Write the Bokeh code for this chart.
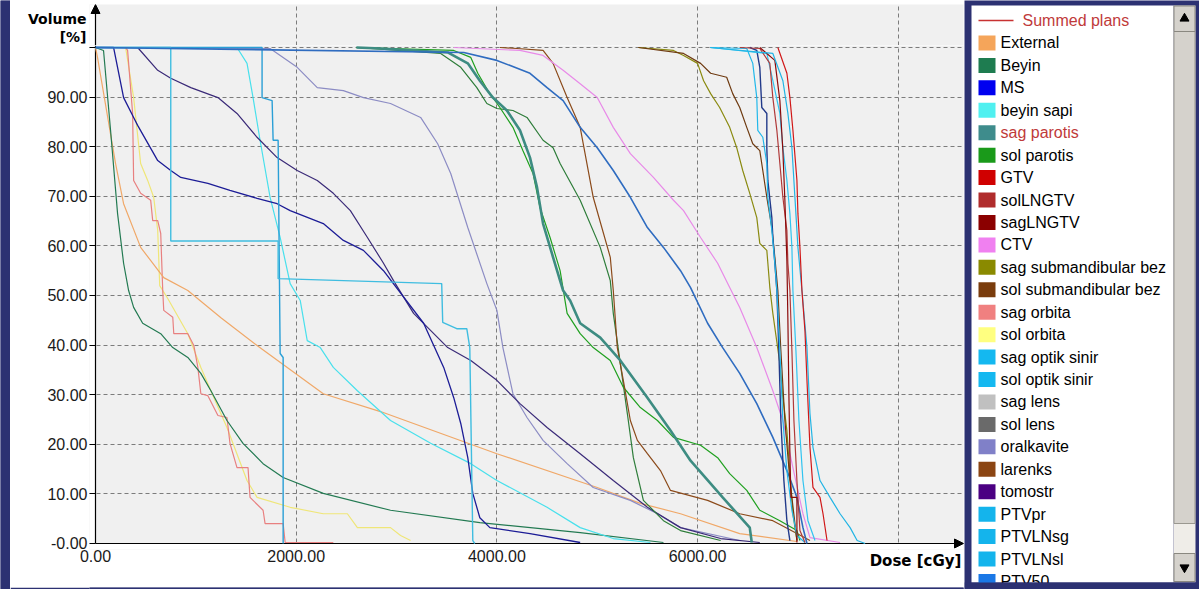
from bokeh.plotting import figure
from bokeh.models import (Range1d, FixedTicker, CustomJSTickFormatter, PrintfTickFormatter,
                          Arrow, NormalHead)
from bokeh.layouts import row, column
from bokeh.embed import file_html
from bokeh.resources import INLINE
from bokeh.core.properties import value

NAVY = "#2c3172"

# ---------------- data ----------------
x_ticks = [0, 2000, 4000, 6000]
x_grid = [2000, 4000, 6000, 8000]
y_ticks = [0, 10, 20, 30, 40, 50, 60, 70, 80, 90, 100]
y_grid = [10, 20, 30, 40, 50, 60, 70, 80, 90, 100]
x_label = "Dose [cGy]"
y_label_lines = ["Volume", "[%]"]

legend_names = ["Summed plans", "External", "Beyin", "MS", "beyin sapi", "sag parotis",
                "sol parotis", "GTV", "solLNGTV", "sagLNGTV", "CTV", "sag submandibular bez",
                "sol submandibular bez", "sag orbita", "sol orbita", "sag optik sinir",
                "sol optik sinir", "sag lens", "sol lens", "oralkavite", "larenks", "tomostr",
                "PTVpr", "PTVLNsg", "PTVLNsl", "PTV50"]
legend_colors = ["#c83232", "#f5a55a", "#1e7c50", "#0000f0", "#50f0f0", "#3e8c8c",
                 "#1a9a1a", "#d00000", "#b02c2c", "#8b0000", "#f080f0", "#8a8a00",
                 "#7a3c0c", "#f08080", "#ffff80", "#14b8f0", "#14b8f0", "#c0c0c0",
                 "#6a6a6a", "#8080c8", "#8b4513", "#4b0082", "#14b4ec", "#14b4ec",
                 "#14b4ec", "#1a78e6"]
legend_text_colors = ["#c03a3a", "black", "black", "black", "black", "#c03a3a"] + ["black"] * 20

sol_orbita_dose = [0, 300, 380, 450, 520, 580, 620, 640, 720, 920, 1050, 1180, 1310, 1510, 1610, 1940, 2270, 2510, 2610, 2940, 3040, 3140]
sol_orbita_vol = [100, 100, 89.9, 76.6, 73.2, 69.8, 63.1, 52, 49.4, 42.3, 35.5, 29.4, 23.4, 12.7, 9.3, 7.3, 6, 6, 3.2, 3.2, 1.6, 0.6]

sag_orbita_dose = [0, 300, 320, 370, 380, 450, 550, 570, 620, 650, 670, 680, 770, 780, 920, 980, 1020, 1050, 1120, 1220, 1310, 1340, 1410, 1520, 1540, 1670, 1690, 1870, 1890, 2370]
sag_orbita_vol = [100, 100, 99.4, 86.7, 73.2, 70.6, 69.2, 65.1, 65.1, 62.5, 51, 47, 45.6, 42.3, 42.3, 39.9, 35.5, 30.2, 29.8, 25.8, 25.4, 20.2, 15.3, 15.3, 9.3, 6.7, 4, 4, 0.2, 0.2]

external_dose = [0, 20, 200, 280, 450, 680, 920, 1250, 1610, 2270, 2840, 4000, 5000, 5430, 5830, 6420, 6990]
external_vol = [100, 98, 76.6, 68.5, 59.7, 53.6, 51, 45.5, 39.9, 30.2, 26.6, 18.1, 11.3, 8.1, 6, 2, 0.4]

beyin_dose = [0, 80, 150, 220, 280, 330, 380, 470, 650, 770, 920, 1050, 1150, 1310, 1470, 1670, 1870, 2270, 2940, 3830, 4830, 5660]
beyin_vol = [100, 99.4, 83.3, 66.5, 56.5, 51, 47.6, 44.4, 42.3, 39.5, 37.5, 34.3, 30.8, 24.8, 20.2, 16.1, 13.3, 10.1, 6.7, 4.2, 2.2, 0.2]

beyin_sapi_dose = [0, 1410, 1510, 1570, 1640, 1740, 1840, 1940, 2040, 2110, 2240, 2370, 2610, 2940, 3340, 3740, 4000, 4500, 4830, 5160, 5530]
beyin_sapi_vol = [100, 100, 96.8, 89.9, 81.3, 69.8, 61.7, 52.4, 49, 40.9, 39.5, 35.5, 30.8, 24.8, 20.2, 16.1, 12.7, 7.3, 3.2, 1, 0.2]

oralkavite_dose = [0, 1740, 2010, 2210, 2470, 2670, 2940, 3240, 3410, 3540, 3710, 3900, 4000, 4060, 4160, 4300, 4460, 4700, 4960, 5330, 5600, 5830, 6420]
oralkavite_vol = [100, 99.8, 96, 91.9, 91.3, 89.9, 88.7, 85.9, 80.6, 74.6, 63.7, 52.4, 47, 39.5, 30.2, 25.4, 20.8, 16.1, 11.3, 8.7, 6, 3.2, 0.6]

tomostr_dose = [0, 420, 620, 750, 950, 1220, 1410, 1610, 1810, 2010, 2210, 2370, 2540, 2710, 2870, 2970, 3170, 3510, 3740, 4000, 4230, 4500, 4830, 5160, 5500, 5830, 6230, 6620]
tomostr_vol = [100, 100, 95.4, 93.8, 91.9, 89.9, 86.7, 81.9, 77.8, 75.2, 73.2, 70.6, 67.1, 61.7, 56.5, 53, 46.4, 39.5, 36.9, 32.9, 28.2, 23.4, 18.1, 12.7, 7.3, 3.2, 1, 0.2]

ms_dose = [0, 180, 280, 380, 420, 620, 750, 850, 1120, 1340, 1610, 1810, 1940, 2270, 2470, 2670, 2870, 3270, 3470, 3570, 3640, 3710, 3760, 3830, 3930, 4330, 4830]
ms_vol = [100, 100, 89.9, 85.9, 84.3, 77.2, 75.2, 73.8, 72.6, 71.2, 69.6, 68.5, 67.1, 64.5, 61.1, 59.1, 55, 44.4, 35.5, 29.4, 24.2, 17.3, 10.1, 5.2, 3.2, 2, 0.2]

sol_optik_dose = [0, 1660, 1660, 1760, 1770, 1820, 1840, 1870, 1870]
sol_optik_vol = [100, 100, 89.9, 89.3, 81.3, 81.3, 38.3, 37.5, 0]

sag_optik_dose = [0, 750, 750, 1820, 1820, 3450, 3460, 3600, 3700, 3730, 3760, 3780]
sag_optik_vol = [100, 100, 61, 61, 53.4, 52.4, 44.6, 43.3, 43.3, 39.5, 0.6, 0]

other_green_dose = [2600, 3440, 3640, 3800, 3900, 4000, 4160, 4300, 4460, 4560, 4630, 4830, 5030, 5130, 5160, 5230, 5300, 5360, 5460, 5660, 5830, 6230]
other_green_vol = [100, 98.8, 96, 91.9, 88.7, 87.7, 87.3, 85.9, 81.3, 79.8, 76.6, 69.2, 59.7, 53, 46.4, 36.3, 26.2, 17.3, 8.7, 4.6, 2.6, 0.6]

sol_parotis_dose = [2600, 3570, 3740, 3810, 3910, 4030, 4160, 4260, 4360, 4430, 4530, 4630, 4700, 4830, 4960, 5130, 5260, 5430, 5600, 5760, 6030, 6200, 6320, 6490, 6620, 6820, 6990, 7020]
sol_parotis_vol = [100, 99.4, 98, 94.8, 91.3, 87.9, 83.9, 79.2, 74.6, 67.7, 61.7, 55, 46.4, 42.3, 39.5, 36.9, 31.5, 27.4, 24.8, 21.4, 19.8, 17.3, 14.1, 10.7, 6.7, 4.6, 2.6, 0.6]

larenks_dose = [4030, 4200, 4460, 4560, 4700, 4830, 4960, 5130, 5160, 5200, 5260, 5330, 5400, 5500, 5630, 5730, 6100, 6420, 6750, 6990, 7120]
larenks_vol = [100, 99.8, 99.4, 96.8, 89.9, 83.9, 69.8, 57.7, 51, 39.5, 32.9, 24.8, 20.8, 18.1, 14.7, 10.7, 8.7, 6, 4.6, 2, 0.6]

sag_parotis_dose = [2600, 2840, 3510, 3710, 3830, 3960, 4100, 4230, 4330, 4400, 4460, 4560, 4660, 4730, 4830, 5030, 5230, 5500, 5730, 5930, 6250, 6520, 6540]
sag_parotis_vol = [100, 99.8, 99, 96.8, 93.3, 89.9, 87.3, 83.3, 77.8, 71.8, 64.5, 57.7, 51, 49, 44.4, 41.5, 36.9, 29.4, 22.8, 16.7, 9.3, 3.2, 0.2]

ctv_dose = [3570, 4230, 4460, 4660, 4830, 5000, 5160, 5330, 5560, 5760, 5860, 6030, 6200, 6320, 6420, 6590, 6750, 6850, 6950, 7050, 7120, 7420]
ctv_vol = [100, 99.4, 98.4, 95.4, 92.7, 89.9, 83.9, 78.6, 73.8, 69.2, 67.1, 61.7, 56.5, 51.6, 47.6, 39.5, 30.8, 24.8, 15.3, 6, 1.2, 0.2]

ptv50_dose = [0, 3670, 4000, 4330, 4500, 4660, 4830, 5000, 5160, 5330, 5500, 5660, 5830, 5930, 6100, 6250, 6420, 6590, 6750, 6890, 6990, 7050, 7090]
ptv50_vol = [100, 99, 97.4, 94.8, 91.9, 89.3, 83.9, 79.8, 75.2, 69.8, 63.7, 59.7, 55, 51.6, 44.4, 39.5, 34.3, 28.2, 21.4, 14.7, 9.3, 3.2, 0]

sag_submand_dose = [5410, 5760, 5860, 6000, 6060, 6130, 6220, 6320, 6390, 6450, 6520, 6590, 6620, 6690, 6720, 6750, 6820, 6850, 6890, 6920, 6950, 6990]
sag_submand_vol = [100, 99.4, 98.4, 96.8, 93.3, 90.7, 87.9, 83.9, 79.8, 75.2, 70.6, 65.7, 60.5, 59.1, 51.6, 46.4, 36.3, 29.4, 22.8, 14.1, 6, 0.6]

sol_submand_dose = [5410, 5860, 6030, 6130, 6290, 6350, 6420, 6490, 6550, 6620, 6650, 6690, 6740, 6770, 6800, 6830, 6870, 6920, 6990]
sol_submand_vol = [100, 98.8, 96.8, 94.8, 94, 90.7, 87.9, 83.9, 80.6, 79.2, 75.2, 69.8, 63.7, 57.7, 51, 38.9, 24.8, 12.7, 0.6]

other_navy_dose = [6520, 6590, 6620, 6640, 6690, 6690, 6700, 6740, 6750, 6770, 6790, 6810, 6830, 6860, 6890, 6920]
other_navy_vol = [100, 99.4, 96, 87.9, 86.7, 79.8, 73.2, 65.7, 61.7, 56.5, 51, 38.9, 24.8, 12.7, 4.6, 0.6]

ptvpr_dose = [6125, 6490, 6550, 6590, 6600, 6650, 6690, 6700, 6740, 6770, 6790, 6820, 6850, 6890, 6940, 6990, 7070]
ptvpr_vol = [100, 99.8, 96.8, 89.9, 83.3, 81.9, 76.6, 69.8, 63.1, 56.5, 51, 38.9, 24.8, 14.7, 6.7, 1.6, 0.2]

ptvlnsg_dose = [6125, 6690, 6750, 6820, 6850, 6890, 6920, 6940, 6950, 6980, 7010, 7050, 7100, 7170]
ptvlnsg_vol = [100, 98.8, 93.3, 86.7, 79.8, 73.2, 66.5, 59.7, 51, 38.9, 24.8, 12.7, 4.6, 0.6]

sollngtv_dose = [6420, 6620, 6720, 6750, 6790, 6820, 6850, 6890, 6900, 6920, 6940, 6960, 6990, 7020, 7070]
sollngtv_vol = [100, 99.8, 96.8, 89.9, 83.3, 76.6, 69.8, 63.1, 56.5, 51, 38.9, 24.8, 12.7, 2.6, 0.2]

saglngtv_dose = [6620, 6770, 6820, 6850, 6870, 6890, 6900, 6910, 6920, 6930, 6990, 6990]
saglngtv_vol = [100, 97.4, 89.3, 79.2, 69.2, 57, 45, 30, 18, 9.3, 9.3, 0.2]

ptvlnsl_dose = [6125, 6750, 6850, 6900, 6940, 6970, 7000, 7040, 7090, 7120, 7150, 7220, 7320, 7420, 7520, 7590, 7670]
ptvlnsl_vol = [100, 98.8, 93.3, 86.7, 79.8, 69.8, 59.7, 51, 39.5, 26.2, 19.4, 12.7, 9.3, 6, 3.2, 0.6, 0]

gtv_dose = [6800, 6890, 6920, 6950, 6990, 7000, 7020, 7040, 7070, 7090, 7120, 7150, 7220, 7250, 7290]
gtv_vol = [100, 94.8, 89.9, 83.3, 73.2, 66.5, 59.7, 51, 42.9, 32.9, 19.4, 11.3, 9.3, 6, 0.6]

series = [
    (sol_orbita_dose, sol_orbita_vol, "#efe678", 1.2),
    (sag_orbita_dose, sag_orbita_vol, "#e88080", 1.2),
    (external_dose, external_vol, "#f0a868", 1.2),
    (beyin_dose, beyin_vol, "#237a52", 1.2),
    (beyin_sapi_dose, beyin_sapi_vol, "#48e0ec", 1.2),
    (oralkavite_dose, oralkavite_vol, "#8c8cc4", 1.2),
    (tomostr_dose, tomostr_vol, "#3a2a78", 1.2),
    (other_green_dose, other_green_vol, "#2e7d3a", 1.2),
    (sol_parotis_dose, sol_parotis_vol, "#1fa01f", 1.2),
    (larenks_dose, larenks_vol, "#8b4a1a", 1.2),
    (sag_parotis_dose, sag_parotis_vol, "#3d8c82", 2.6),
    (ctv_dose, ctv_vol, "#e88ae8", 1.2),
    (ms_dose, ms_vol, "#1c1c96", 1.3),
    (sol_optik_dose, sol_optik_vol, "#2a9fd6", 1.4),
    (sag_optik_dose, sag_optik_vol, "#3fbde0", 1.4),
    (ptv50_dose, ptv50_vol, "#2f6cc0", 1.6),
    (sag_submand_dose, sag_submand_vol, "#8a8a10", 1.2),
    (sol_submand_dose, sol_submand_vol, "#6e3a10", 1.2),
    (other_navy_dose, other_navy_vol, "#223a8a", 1.4),
    (ptvpr_dose, ptvpr_vol, "#22b8ea", 1.2),
    (ptvlnsg_dose, ptvlnsg_vol, "#30c4f0", 1.2),
    (sollngtv_dose, sollngtv_vol, "#b03a3a", 1.2),
    (saglngtv_dose, saglngtv_vol, "#8b0a0a", 1.2),
    (ptvlnsl_dose, ptvlnsl_vol, "#22b4e4", 1.2),
    (gtv_dose, gtv_vol, "#d01818", 1.2),
]

# ---------------- geometry ----------------
X_MAX = 8650
SX = 868 / X_MAX         # px per cGy
SY = 4.96                # px per %
PAD = 6                  # px of frame kept outside the axes, so arrow heads are not cut
X_MIN = -PAD / SX
Y_MIN = -PAD / SY
TOP_H = 41               # px of the strip above the main frame
Y_TOP = 100.4            # top of the main frame (in %)
GRID_COLOR = "#7c7c7c"


def style_grid(g):
    g.grid_line_color = GRID_COLOR
    g.grid_line_dash = "4 3"
    g.grid_line_width = 1


x_range = Range1d(X_MIN, X_MAX)

# ---------------- strip above the main frame (axis arrow + y title) ----------------
pt = figure(width=954, height=TOP_H, x_range=x_range,
            y_range=Range1d(Y_TOP, Y_TOP + TOP_H / SY),
            min_border_left=85 - PAD, min_border_right=1, min_border_top=0, min_border_bottom=0,
            background_fill_color="#f0f0f0", border_fill_color="white",
            outline_line_color=None, toolbar_location=None, output_backend="svg")
pt.xaxis.visible = False
pt.ygrid.visible = False
pt.xgrid.ticker = FixedTicker(ticks=x_grid)
style_grid(pt.xgrid)
pt.quad(left=[X_MIN], right=[0], bottom=[Y_TOP], top=[Y_TOP + TOP_H / SY],
        fill_color="white", line_color=None)
pt.yaxis.ticker = FixedTicker(ticks=[Y_TOP + 27 / SY, Y_TOP + 8.5 / SY])
pt.yaxis.formatter = CustomJSTickFormatter(args=dict(labels=y_label_lines),
                                           code="return tick > 104 ? labels[0] : labels[1];")
pt.yaxis.axis_line_color = None
pt.yaxis.major_tick_out = 0
pt.yaxis.major_tick_in = 0
pt.yaxis.minor_tick_line_color = None
pt.yaxis.major_label_standoff = 3
pt.yaxis.major_label_text_font = "DejaVu Sans"
pt.yaxis.major_label_text_font_style = "bold"
pt.yaxis.major_label_text_font_size = "14px"
pt.yaxis.major_label_text_color = "black"
pt.add_layout(Arrow(end=NormalHead(size=9, fill_color="black", line_color="black"),
                    x_start=0, y_start=Y_TOP, x_end=0, y_end=Y_TOP + TOP_H / SY,
                    line_color="black", line_width=1.2))

# ---------------- main plot ----------------
p = figure(width=954, height=537, x_range=x_range, y_range=Range1d(Y_MIN, Y_TOP),
           min_border_left=85 - PAD, min_border_right=1, min_border_top=0,
           min_border_bottom=39 - PAD,
           background_fill_color="#f0f0f0", border_fill_color="white",
           outline_line_color=None, toolbar_location=None, output_backend="svg")

# white margins inside the frame, left of and below the axes
p.quad(left=[X_MIN, X_MIN], right=[0, X_MAX], bottom=[Y_MIN, Y_MIN], top=[Y_TOP, 0],
       fill_color="white", line_color=None)
# axis lines through the origin
p.line([0, 0], [0, Y_TOP], line_color="black", line_width=1.2)
p.line([0, X_MAX], [0, 0], line_color="black", line_width=1.2)

for d, v, c, w in series:
    p.line(d, v, line_color=c, line_width=w)

p.xaxis.ticker = FixedTicker(ticks=x_ticks)
p.xaxis.formatter = PrintfTickFormatter(format="%.2f")
p.xgrid.ticker = FixedTicker(ticks=x_grid)
p.yaxis.ticker = FixedTicker(ticks=y_ticks)
p.yaxis.formatter = CustomJSTickFormatter(
    code="if (tick == 0) { return '-0.00'; } if (tick == 100) { return ''; } return tick.toFixed(2);")
p.ygrid.ticker = FixedTicker(ticks=y_grid)
style_grid(p.xgrid)
style_grid(p.ygrid)

for ax in (p.xaxis, p.yaxis):
    ax.axis_line_color = None
    ax.major_tick_line_color = "black"
    ax.major_tick_line_width = 1.2
    ax.minor_tick_line_color = None
    ax.major_label_text_font = "Liberation Sans"
    ax.major_label_text_font_size = "16px"
    ax.major_label_text_color = "#1a1a1a"

p.yaxis.major_tick_out = 0
p.yaxis.major_tick_in = PAD
p.yaxis.major_label_standoff = 2
p.xaxis.major_tick_out = 0
p.xaxis.major_tick_in = 0
p.xaxis.major_label_standoff = 0

# x axis title, right end of the axis, level with the tick labels
p.xaxis.axis_label = "\u00a0" * 149 + x_label
p.xaxis.axis_label_text_font = "DejaVu Sans"
p.xaxis.axis_label_text_font_style = "bold"
p.xaxis.axis_label_text_font_size = "15px"
p.xaxis.axis_label_text_color = "black"
p.xaxis.axis_label_standoff = -13

p.add_layout(Arrow(end=NormalHead(size=9, fill_color="black", line_color="black"),
                   x_start=8300, y_start=0, x_end=X_MAX, y_end=0,
                   line_color="black", line_width=1.2))

# ---------------- legend panel ----------------
lg = figure(width=235, height=589, x_range=Range1d(964, 1199), y_range=Range1d(589, 0),
            min_border=0, toolbar_location=None, outline_line_color=None,
            background_fill_color=NAVY, border_fill_color=NAVY, output_backend="svg")
lg.axis.visible = False
lg.grid.visible = False

lg.quad(left=[971], right=[1173], top=[5], bottom=[582], fill_color="white", line_color=None)
lg.quad(left=[1173], right=[1195], top=[5], bottom=[582], fill_color="#efede8", line_color=None)
lg.quad(left=[1173.5], right=[1194.5], top=[31], bottom=[523], fill_color="#d5d2cc",
        line_color="#9a9890", line_width=1)
lg.quad(left=[1173.5, 1173.5], right=[1194.5, 1194.5], top=[5.5, 553], bottom=[31, 581],
        fill_color="#d5d2cc", line_color="#8a8880", line_width=1)
lg.scatter([1184], [18], marker="triangle", size=9, fill_color="black", line_color="black")
lg.scatter([1184], [567], marker="inverted_triangle", size=9, fill_color="black", line_color="black")

n = len(legend_names)
ys = [20 + 22.44 * i for i in range(n)]
lg.line([978, 1013], [ys[0], ys[0]], line_color=legend_colors[0], line_width=1.3)
lg.quad(left=[978] * (n - 1), right=[995] * (n - 1),
        top=[y - 7.5 for y in ys[1:]], bottom=[y + 7.5 for y in ys[1:]],
        fill_color=legend_colors[1:], line_color=None)
lg.text(x=[1022] + [1000] * (n - 1), y=ys, text=legend_names, text_baseline="middle",
        text_align="left", text_font=value("Liberation Sans"), text_font_size="16px",
        text_color=legend_text_colors)
lg.quad(left=[964], right=[1199], top=[582], bottom=[589], fill_color=NAVY, line_color=None)


def strip(w, h):
    s = figure(width=w, height=h, x_range=Range1d(0, 1), y_range=Range1d(0, 1), min_border=0,
               toolbar_location=None, outline_line_color=None, background_fill_color=NAVY,
               border_fill_color=NAVY, output_backend="svg")
    s.axis.visible = False
    s.grid.visible = False
    s.quad(left=[0], right=[1], top=[1], bottom=[0], fill_color=NAVY, line_color=None)
    return s


layout = row(strip(10, 589), column(strip(954, 4), pt, p, strip(954, 7)), lg)

open("out.html", "w").write(file_html(layout, INLINE))
